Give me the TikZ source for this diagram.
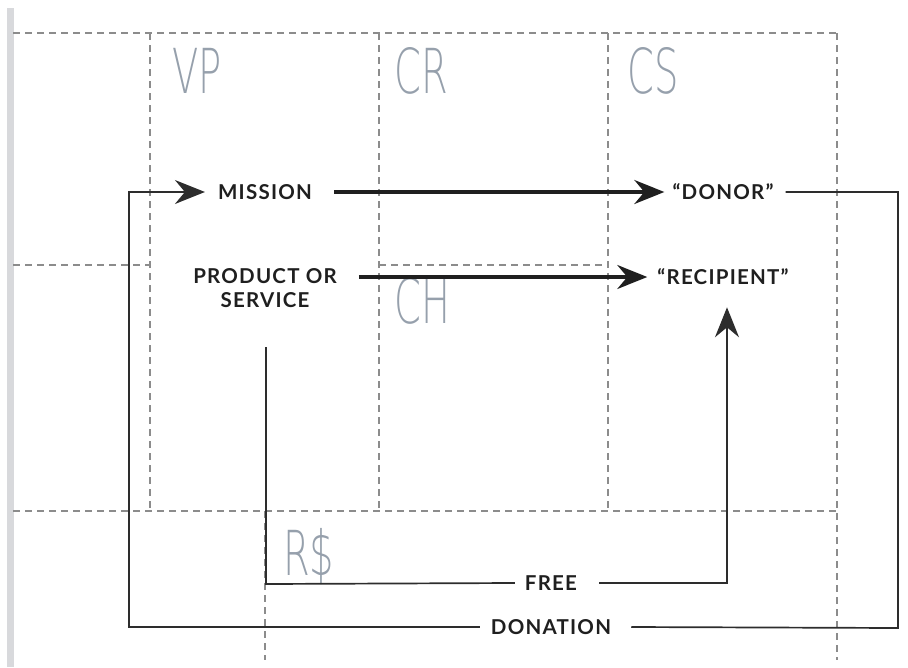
\documentclass[tikz,border=0pt]{standalone}
\usepackage{fontspec}
\setmainfont{Lato}
\newfontfamily\lblfont{Lato}[LetterSpace=6]
\newfontfamily\thinfont{DejaVu Sans ExtraLight}
\usetikzlibrary{arrows.meta}
\definecolor{bigc}{RGB}{150,160,172}
\definecolor{barc}{RGB}{216,217,220}
\definecolor{dashc}{RGB}{140,140,140}
\definecolor{linec}{RGB}{45,45,45}
\tikzset{
  gridln/.style={draw=dashc, line width=1.8pt, dash pattern=on 7pt off 5pt},
  lbl/.style={font=\lblfont\bfseries\fontsize{20.5}{24}\selectfont, text=black!88, inner sep=0pt, align=center},
  bigl/.style={font=\thinfont\fontsize{62}{62}\selectfont, text=bigc, inner sep=0pt, anchor=base west},
  conn/.style={draw=linec, line width=1.7pt},
  heavy/.style={draw=black!88, line width=3.2pt},
  tip/.style={-{Stealth[length=30pt,width=24pt,inset=10pt]}}
}
\begin{document}
\begin{tikzpicture}[x=1pt,y=-1pt]
\useasboundingbox (0,0) rectangle (908,667);
% left bar
\fill[barc] (7,8) rectangle (14,667);
% grid
\draw[gridln] (13,33) -- (837,33);
\draw[gridln] (13,265) -- (150,265);
\draw[gridln] (379,265) -- (608,265);
\draw[gridln] (13,511) -- (837,511);
\draw[gridln] (150,33) -- (150,511);
\draw[gridln] (379,33) -- (379,511);
\draw[gridln] (608,33) -- (608,511);
\draw[gridln] (837,33) -- (837,660);
\draw[gridln] (265,511) -- (265,660);
% big labels
\node[bigl] (vp) at (172,93) {\scalebox{0.62}[1]{VP}};
\node[bigl] (cr) at (394,93) {\scalebox{0.62}[1]{CR}};
\node[bigl] (cs) at (627,93) {\scalebox{0.62}[1]{CS}};
\node[bigl] (ch) at (394,323) {\scalebox{0.62}[1]{CH}};
\node[bigl] (rs) at (283,575) {\scalebox{0.62}[1]{R\$}};
% labels
\node[lbl] (mission) at (265,192) {MISSION};
\node[lbl] (product) at (265,288) {PRODUCT OR\\SERVICE};
\node[lbl] (donor) at (723,192) {“DONOR”};
\node[lbl] (recip) at (723,277) {“RECIPIENT”};
\node[lbl] (free) at (551,583) {FREE};
\node[lbl] (donation) at (551,627) {DONATION};
% corners
\coordinate (rt) at (898,628);
\coordinate (lft) at (129,192);
\coordinate (pstart) at (266,347);
\coordinate (fcorner) at (266,584);
% connectors
\draw[heavy,tip] ([xshift=22]mission.east) -- ([xshift=-8]donor.west);
\draw[heavy,tip,shorten <=22pt] (product.east |- recip.west) -- ([xshift=-10]recip.west);
\draw[conn] ([xshift=12]donor.east) -| (rt) -- ([xshift=20]donation.east);
\draw[conn,tip] ([xshift=-11]donation.west) -| (lft) -- ([xshift=-13]mission.west);
\draw[conn] (pstart) -- (fcorner) -- ([xshift=-10]free.west);
\draw[conn,tip] ([xshift=22]free.east) -| ([xshift=4,yshift=-22]recip.south);
\end{tikzpicture}
\end{document}
